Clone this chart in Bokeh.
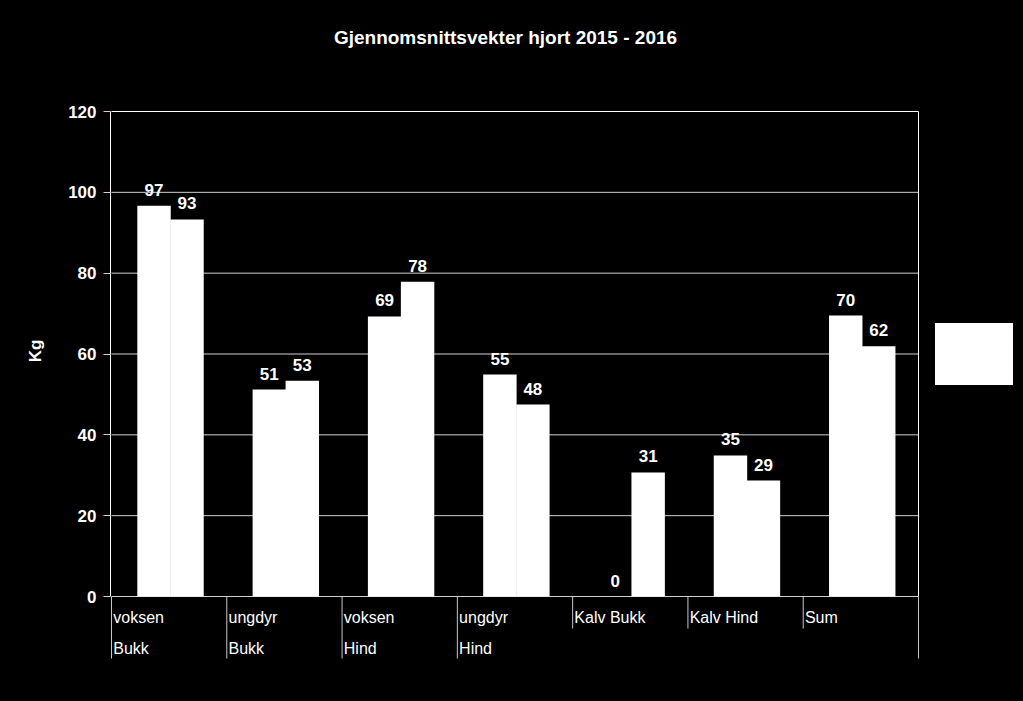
from bokeh.plotting import figure
from bokeh.models import Range1d, FixedTicker, Legend, LegendItem, Label
from bokeh.core.properties import value
from bokeh.embed import file_html
from bokeh.resources import INLINE

# ---- data ----
title = "Gjennomsnittsvekter hjort 2015 - 2016"
cat_line1 = ["voksen", "ungdyr", "voksen", "ungdyr", "Kalv Bukk", "Kalv Hind", "Sum"]
cat_line2 = ["Bukk", "Bukk", "Hind", "Hind", "", "", ""]
series_names = ["2015", "2016"]
vals_2015 = [96.7, 51.2, 69.3, 54.9, 0.0, 34.9, 69.5]
vals_2016 = [93.3, 53.4, 77.9, 47.5, 30.7, 28.7, 61.9]
y_ticks = [0, 20, 40, 60, 80, 100, 120]
y_label = "Kg"

FONT = "Liberation Sans"
n = len(cat_line1)

# ---- geometry (pixels of the 1023x701 canvas) ----
W, H = 1023, 701
LEFT = 110                      # frame starts here; axis panel on its left
PX0, PX1 = 111, 918             # plot area left/right
PY_TOP, PY_BOT = 111, 596       # y=120 / y=0
sx = (PX1 - PX0) / n
sy = (PY_BOT - PY_TOP) / (y_ticks[-1] - y_ticks[0])
x_start = -(PX0 - LEFT) / sx
x_end = (W - PX0) / sx
y_end = y_ticks[-1] + PY_TOP / sy
y_start = -(H - PY_BOT) / sy

p = figure(width=W, height=H,
           x_range=Range1d(x_start, x_end), y_range=Range1d(y_start, y_end),
           output_backend="svg", toolbar_location=None, x_axis_location=None,
           min_border_left=LEFT, min_border_right=0, min_border_top=0, min_border_bottom=0)
p.styles = {"background-color": "black"}
p.background_fill_color = "black"
p.border_fill_color = "black"
p.outline_line_color = None
p.xgrid.visible = False
p.ygrid.visible = False

ax = p.yaxis[0]
ax.ticker = FixedTicker(ticks=y_ticks)
ax.bounds = (y_ticks[0], y_ticks[-1])
ax.axis_line_color = "white"
ax.major_tick_line_color = "#d0d0d0"
ax.major_tick_out = 7
ax.major_tick_in = 0
ax.minor_tick_line_color = None
ax.major_label_text_color = "white"
ax.major_label_text_font = FONT
ax.major_label_text_font_style = "bold"
ax.major_label_text_font_size = "17px"
ax.major_label_standoff = 7
ax.axis_label = y_label
ax.axis_label_text_color = "white"
ax.axis_label_text_font = FONT
ax.axis_label_text_font_style = "bold"
ax.axis_label_text_font_size = "17px"
ax.axis_label_standoff = 20

# title
p.add_layout(Label(x=(505 - PX0) / sx, y=y_ticks[-1] + (PY_TOP - 37) / sy, text=title,
                   text_align="center", text_baseline="middle", text_color="white",
                   text_font=FONT, text_font_style="bold", text_font_size="19px"))

# horizontal grid lines across the category area only
p.multi_line(xs=[[0, n] for _ in y_ticks], ys=[[t, t] for t in y_ticks],
             line_color=["white" if t == y_ticks[-1] else "#d0d0d0" for t in y_ticks], line_width=1)

# bars
bar_w = 0.29
x15 = [i + 0.369 for i in range(n)]
x16 = [i + 0.655 for i in range(n)]
r1 = p.vbar(x=x15, top=vals_2015, width=bar_w, bottom=0, fill_color="white", line_color=None)
r2 = p.vbar(x=x16, top=vals_2016, width=bar_w, bottom=0, fill_color="white", line_color=None)

# right border of plot area
p.segment(x0=[n], y0=[0], x1=[n], y1=[y_ticks[-1]], line_color="white", line_width=1)

# value labels
for xs, vs in ((x15, vals_2015), (x16, vals_2016)):
    p.text(x=xs, y=vs, text=[f"{v:.0f}" for v in vs], text_align="center", text_baseline="middle",
           y_offset=-16, text_font=value(FONT), text_font_style="bold", text_font_size="17px",
           text_color="white")

# category tick lines below the axis
long_end, short_end = -(658 - PY_BOT) / sy, -(628 - PY_BOT) / sy
txs, tys = [], []
for b in range(n + 1):
    two = (b == n) or (b < n and cat_line2[b] != "")
    txs.append([b, b])
    tys.append([0, long_end if two else short_end])
p.multi_line(xs=txs, ys=tys, line_color="#c8c8c8", line_width=1)

# category labels
cx = [i + 0.015 for i in range(n)]
p.text(x=cx, y=[0] * n, text=cat_line1, text_align="left", text_baseline="middle", y_offset=21,
       text_font=value(FONT), text_font_size="16px", text_color="white")
p.text(x=cx, y=[0] * n, text=cat_line2, text_align="left", text_baseline="middle", y_offset=52,
       text_font=value(FONT), text_font_size="16px", text_color="white")

# legend (white box)
legend = Legend(items=[LegendItem(label=series_names[0], renderers=[r1]),
                       LegendItem(label=series_names[1], renderers=[r2])],
                location=(935 - LEFT, H - 385), background_fill_color="white", background_fill_alpha=1,
                border_line_color=None, label_text_color="white", label_text_font=FONT,
                label_text_font_size="13px", padding=0, spacing=2, glyph_width=44,
                glyph_height=30, label_height=30, label_standoff=5, margin=0)
p.add_layout(legend)

open("out.html", "w").write(file_html(p, INLINE))
